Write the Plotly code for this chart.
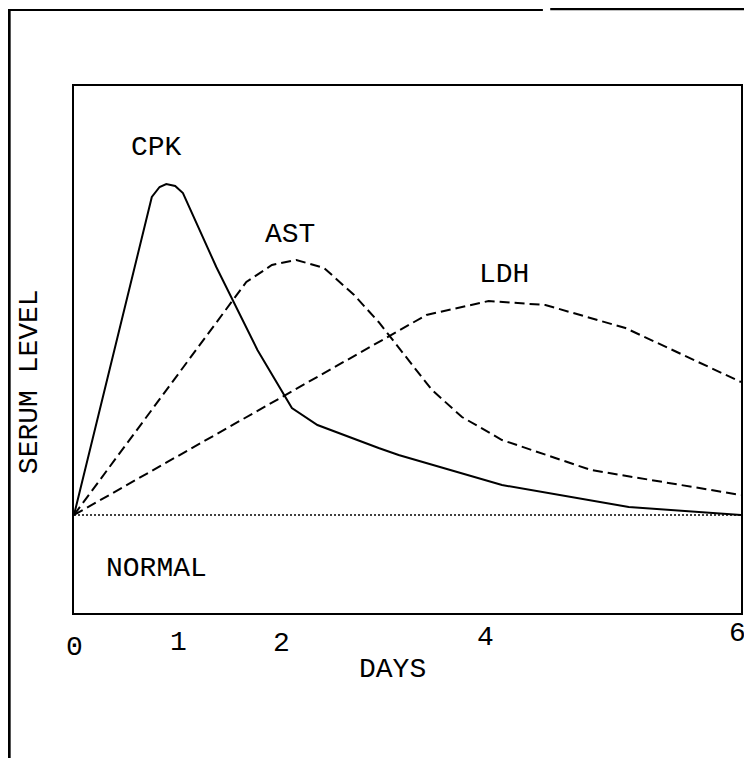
import plotly.graph_objects as go

# ---- data (days, serum level relative to normal = 1) ----
cpk_days = [0, 0.70, 0.77, 0.83, 0.91, 0.98, 1.28, 1.65, 1.96, 2.19, 2.74, 2.92, 3.85, 4.99, 6.0]
cpk_level = [1.00, 4.18, 4.28, 4.31, 4.29, 4.22, 3.48, 2.65, 2.07, 1.90, 1.67, 1.60, 1.30, 1.08, 1.00]

ast_days = [0, 1.55, 1.78, 2.00, 2.25, 2.52, 2.74, 3.22, 3.49, 3.85, 4.65, 6.0]
ast_level = [1.00, 3.33, 3.50, 3.55, 3.47, 3.20, 2.93, 2.25, 1.98, 1.75, 1.45, 1.20]

ldh_days = [0, 1.58, 3.17, 3.73, 4.24, 4.96, 6.0]
ldh_level = [1.00, 2.00, 3.00, 3.14, 3.10, 2.87, 2.33]

normal_days = [0, 6]
normal_level = [1.0, 1.0]

tick_labels = ["0", "1", "2", "4", "6"]
tick_pos = [0.0, 0.94, 1.87, 3.70, 5.97]
tick_drop = [34, 29, 30, 24, 20]

FONT = "Liberation Mono, Courier New, monospace"
X_MAX = 6.0

fig = go.Figure()
fig.add_trace(go.Scatter(x=normal_days, y=normal_level, mode="lines",
                         line=dict(color="black", width=1.5, dash="2px,2px"),
                         showlegend=False, hoverinfo="skip"))
fig.add_trace(go.Scatter(x=ldh_days, y=ldh_level, mode="lines", name="LDH",
                         line=dict(color="black", width=2, dash="10px,5px"),
                         showlegend=False))
fig.add_trace(go.Scatter(x=ast_days, y=ast_level, mode="lines", name="AST",
                         line=dict(color="black", width=2, dash="10px,5px"),
                         showlegend=False))
fig.add_trace(go.Scatter(x=cpk_days, y=cpk_level, mode="lines", name="CPK",
                         line=dict(color="black", width=2),
                         showlegend=False))

ann = []
for t, p, d in zip(tick_labels, tick_pos, tick_drop):
    ann.append(dict(x=p / X_MAX, y=0, xref="paper", yref="paper", text=t, showarrow=False,
                    yanchor="middle", xanchor="center", yshift=-d,
                    font=dict(family=FONT, size=28, color="black")))

labels = [("CPK", 0.74, 4.68), ("AST", 1.94, 3.81), ("LDH", 3.87, 3.41), ("NORMAL", 0.74, 0.47)]
for t, x, y in labels:
    ann.append(dict(x=x, y=y, xref="x", yref="y", text=t, showarrow=False,
                    xanchor="center", yanchor="middle",
                    font=dict(family=FONT, size=28, color="black")))

ann.append(dict(x=0.477, y=0, xref="paper", yref="paper", text="DAYS", showarrow=False,
                xanchor="center", yanchor="middle", yshift=-56,
                font=dict(family=FONT, size=28, color="black")))
ann.append(dict(x=0, y=0.438, xref="paper", yref="paper", text="SERUM LEVEL", showarrow=False,
                xanchor="center", yanchor="middle", xshift=-45, textangle=-90,
                font=dict(family=FONT, size=28, color="black")))

shapes = [
    # outer frame left
    dict(type="line", xref="paper", yref="paper", x0=-0.0972, x1=-0.0972, y0=1.146, y1=-0.28,
         line=dict(color="black", width=3)),
    # outer frame top (two segments with a gap)
    dict(type="line", xref="paper", yref="paper", x0=-0.0972, x1=0.703, y0=1.144, y1=1.144,
         line=dict(color="black", width=2)),
    dict(type="line", xref="paper", yref="paper", x0=0.714, x1=1.03, y0=1.146, y1=1.146,
         line=dict(color="black", width=2.5)),
]

fig.update_layout(
    width=744, height=750,
    margin=dict(l=66, r=9, t=78, b=145),
    paper_bgcolor="white", plot_bgcolor="white",
    annotations=ann, shapes=shapes,
    xaxis=dict(range=[0, X_MAX], showgrid=False, zeroline=False, showticklabels=False,
               ticks="", showline=True, mirror=True, linecolor="black", linewidth=2),
    yaxis=dict(range=[0.02, 5.29], showgrid=False, zeroline=False, showticklabels=False,
               ticks="", showline=True, mirror=True, linecolor="black", linewidth=2),
)

fig.write_html("out.html")
